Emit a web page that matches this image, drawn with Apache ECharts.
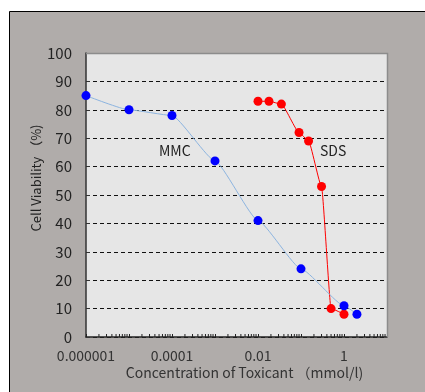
<!DOCTYPE html>
<html>
<head>
<meta charset="utf-8">
<script src="https://cdn.jsdelivr.net/npm/echarts@6/dist/echarts.min.js"></script>
<style>
  html, body { margin: 0; padding: 0; background: #fff; }
  #chart { width: 425px; height: 392px; }
</style>
</head>
<body>
<div id="chart"></div>
<script>
// MMC (blue) and SDS (red) dose-response
var mmcX = [0.000001, 0.00001, 0.0001, 0.001, 0.01, 0.1, 1, 2];
var mmcY = [85, 80, 78, 62, 41, 24, 11, 8];
var sdsX = [0.01, 0.018, 0.035, 0.09, 0.15, 0.3, 0.5, 1];
var sdsY = [83, 83, 82, 72, 69, 53, 10, 8];
var xName = 'Concentration of Toxicant （mmol/l)';
var yName = 'Cell Viability （%)';

var font = '"Noto Sans CJK JP", "Noto Sans", sans-serif';

function pairs(xs, ys) {
    var res = [];
    for (var i = 0; i < xs.length; i++) res.push([xs[i], ys[i]]);
    return res;
}

// minor ticks of the log axis (2..9 in each decade)
var minorTicks = [];
for (var e = -6; e <= 0; e++) {
    for (var m = 2; m <= 9; m++) minorTicks.push([m * Math.pow(10, e), 0]);
}

var chart = echarts.init(document.getElementById('chart'));
var option = {
    animation: false,
    backgroundColor: '#fff',
    textStyle: { fontFamily: font },
    grid: {
        left: 86, right: 38, top: 53, bottom: 55,
        show: true, backgroundColor: '#e6e6e6', borderWidth: 0
    },
    graphic: [
        {
            type: 'rect', z: -10, silent: true,
            shape: { x: 9.5, y: 11.5, width: 430, height: 400 },
            style: { fill: '#b0acaa', stroke: '#000', lineWidth: 1 }
        },
        {
            type: 'polyline', z: 100, silent: true,
            shape: { points: [[86, 53.5], [387.5, 53.5], [387.5, 337]] },
            style: { fill: null, stroke: '#8c8c8c', lineWidth: 1.5 }
        },
        {
            type: 'text', left: 159, top: 144, z: 100,
            style: { text: 'MMC', font: '14px ' + font, fill: '#222' }
        },
        {
            type: 'text', left: 320, top: 144, z: 100,
            style: { text: 'SDS', font: '14px ' + font, fill: '#222' }
        }
    ],
    xAxis: {
        type: 'log',
        logBase: 10,
        min: 0.000001,
        max: 10,
        name: xName,
        nameLocation: 'middle',
        nameGap: 29,
        nameMoveOverlap: false,
        nameTextStyle: { fontSize: 14, color: '#333', fontFamily: font, padding: [0, 0, 0, 16] },
        axisLine: { lineStyle: { color: '#222', width: 1.5 } },
        axisTick: { inside: true, length: 3, lineStyle: { color: '#222' } },
        axisLabel: {
            margin: 12,
            fontSize: 14,
            color: '#333',
            fontFamily: font,
            formatter: function (v) {
                var p = Math.round(Math.log(v) / Math.LN10);
                if (p % 2 !== 0 || p > 0) return '';
                return String(Number(Math.pow(10, p).toPrecision(1)));
            }
        },
        splitLine: { show: false }
    },
    yAxis: {
        type: 'value',
        min: 0,
        max: 100,
        interval: 10,
        name: yName,
        nameLocation: 'middle',
        nameRotate: 90,
        nameGap: 43,
        nameMoveOverlap: false,
        nameTextStyle: { fontSize: 13, color: '#222', fontFamily: font, padding: [0, 0, 0, 34] },
        axisLine: { show: true, lineStyle: { color: '#333', width: 1.5 } },
        axisTick: { show: true, inside: true, length: 4, lineStyle: { color: '#333' } },
        axisLabel: { margin: 14, fontSize: 15, color: '#222', fontFamily: font },
        splitLine: { show: true, lineStyle: { color: '#111', type: [4, 3], width: 1 } }
    },
    series: [
        {
            name: 'ticks',
            type: 'custom',
            silent: true,
            z: 3,
            clip: false,
            data: minorTicks,
            renderItem: function (params, api) {
                var p = api.coord([api.value(0), 0]);
                return {
                    type: 'line',
                    shape: { x1: p[0], y1: p[1], x2: p[0], y2: p[1] - 3 },
                    style: { stroke: '#222', lineWidth: 1 }
                };
            }
        },
        {
            name: 'SDS',
            type: 'line',
            data: pairs(sdsX, sdsY),
            smooth: 0.15,
            smoothMonotone: 'x',
            symbol: 'circle',
            symbolSize: 9,
            z: 4,
            itemStyle: { color: '#ff0000' },
            lineStyle: { color: '#ff0000', width: 1 }
        },
        {
            name: 'MMC',
            type: 'line',
            data: pairs(mmcX, mmcY),
            smooth: 0.15,
            smoothMonotone: 'x',
            symbol: 'circle',
            symbolSize: 9,
            z: 5,
            itemStyle: { color: '#0000ff' },
            lineStyle: { color: '#8cb4e0', width: 1 }
        }
    ]
};
chart.setOption(option);
</script>
</body>
</html>
